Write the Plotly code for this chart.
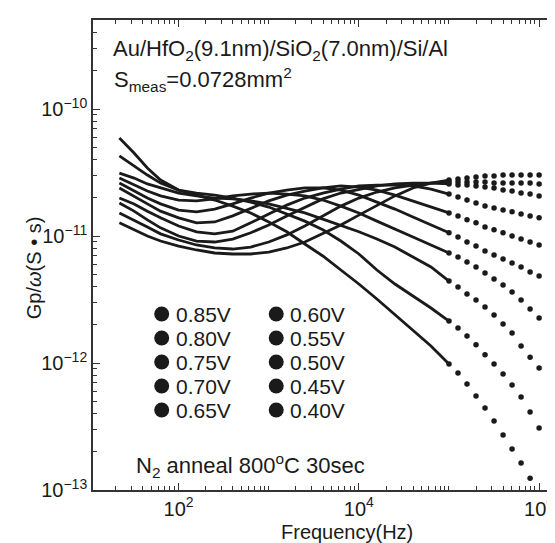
import plotly.graph_objects as go

# Frequency points (Hz)
freq = [22, 32, 45, 63, 100, 158, 251, 398, 631, 1000, 1585, 2512, 3981, 6310,
        10000, 15850, 25120, 39810, 63100, 100000, 125900, 158500, 199500,
        251200, 316200, 398100, 501200, 631000, 794300, 1000000]

# Gp/omega values in units of 1e-12 S*s
v040 = [59.1, 45.0, 34.3, 27.6, 23.0, 21.0, 19.2, 17.2, 15.2, 12.9, 10.8, 8.65, 6.96, 5.40,
        4.19, 3.19, 2.39, 1.82, 1.36, 0.982, 0.834, 0.683, 0.550, 0.442, 0.349, 0.271,
        0.210, 0.163, 0.124, 0.0947]
v045 = [42.7, 35.6, 30.2, 26.1, 23.0, 21.8, 21.0, 19.9, 18.5, 16.9, 14.9, 13.1, 11.2, 9.13,
        7.22, 5.40, 4.19, 3.37, 2.71, 2.14, 1.89, 1.63, 1.39, 1.16, 0.982, 0.819, 0.671,
        0.540, 0.411, 0.308]
v050 = [31.3, 28.6, 25.7, 23.9, 21.8, 20.7, 19.9, 19.6, 18.9, 17.9, 16.6, 15.2, 13.6, 12.2,
        10.8, 9.47, 8.19, 6.83, 5.70, 4.42, 3.97, 3.49, 3.13, 2.76, 2.39, 2.03, 1.72, 1.36,
        1.11, 0.913]
v055 = [28.6, 25.2, 22.6, 20.7, 19.2, 18.9, 19.6, 20.7, 21.4, 21.8, 21.4, 20.7, 19.2, 17.2,
        15.2, 13.1, 11.4, 9.82, 8.50, 7.35, 6.83, 6.24, 5.70, 5.11, 4.58, 4.11, 3.62, 3.13,
        2.66, 2.26]
v060 = [26.1, 22.6, 19.9, 17.9, 16.0, 15.5, 16.3, 17.9, 19.9, 21.8, 23.0, 23.9, 23.9, 23.0,
        21.0, 18.5, 16.3, 14.1, 12.2, 10.6, 9.82, 8.97, 8.34, 7.62, 7.09, 6.59, 6.13, 5.70,
        5.21, 4.84]
v065 = [23.9, 20.7, 17.9, 15.7, 13.9, 12.7, 12.9, 14.4, 16.6, 18.9, 21.0, 22.6, 23.9, 24.8,
        24.3, 23.0, 21.0, 18.9, 16.9, 15.2, 14.4, 13.4, 12.7, 11.8, 11.2, 10.6, 10.0, 9.47,
        8.97, 8.50]
v070 = [19.9, 17.9, 15.7, 13.9, 12.0, 10.8, 10.4, 10.9, 12.7, 14.9, 17.5, 19.9, 21.8, 23.4,
        24.8, 25.2, 25.2, 24.8, 23.4, 21.4, 20.3, 19.2, 18.2, 17.2, 16.6, 16.0, 15.5, 14.9,
        14.4, 13.9]
v075 = [18.2, 15.7, 13.4, 11.6, 10.0, 9.13, 8.97, 9.47, 10.6, 12.2, 14.4, 16.9, 19.6, 21.8,
        23.4, 24.8, 25.7, 26.1, 26.1, 25.7, 25.2, 25.2, 24.8, 24.3, 23.9, 23.0, 22.6, 21.8,
        21.4, 20.7]
v080 = [15.2, 13.4, 11.8, 10.4, 9.30, 8.50, 8.05, 7.90, 8.19, 8.97, 10.2, 12.0, 14.4, 17.2,
        19.9, 22.2, 23.9, 25.2, 26.1, 26.6, 26.6, 26.6, 26.6, 26.6, 26.1, 26.1, 26.1, 26.1,
        26.1, 25.7]
v085 = [12.7, 11.2, 10.0, 9.13, 8.34, 7.76, 7.35, 7.22, 7.22, 7.48, 8.05, 8.97, 10.4, 12.2,
        14.6, 17.5, 20.7, 23.9, 26.1, 27.6, 28.1, 28.6, 29.2, 29.7, 29.7, 30.2, 30.2, 30.2,
        30.2, 30.2]

labels = ["0.85V", "0.80V", "0.75V", "0.70V", "0.65V",
          "0.60V", "0.55V", "0.50V", "0.45V", "0.40V"]
series = [v085, v080, v075, v070, v065, v060, v055, v050, v045, v040]

y_ticks = [1e-13, 1e-12, 1e-11, 1e-10]
y_ticktext = ["10<sup>\u221213</sup>", "10<sup>\u221212</sup>", "10<sup>\u221211</sup>", "10<sup>\u221210</sup>"]
x_ticks = [1e2, 1e4, 1e6]
x_ticktext = ["10<sup>2</sup>", "10<sup>4</sup>", "10<sup>6</sup>"]

FONT = "Arial, Liberation Sans, Helvetica, sans-serif"
INK = "#1a1a1a"

W, H = 555, 543
L, R, T, B = 85, 0, 12, 61
PW, PH = W - L - R, H - T - B


def px(xp):
    return (xp - L) / PW


def py(yp):
    return (H - B - yp) / PH


fig = go.Figure()
split = 100000  # sweep becomes sparse above this frequency
for lab, vals in zip(labels, series):
    yv = [v * 1e-12 for v in vals]
    lo = [(f, y) for f, y in zip(freq, yv) if f <= split]
    hi = [(f, y) for f, y in zip(freq, yv) if f >= split]
    fig.add_trace(go.Scatter(
        x=[p[0] for p in lo], y=[p[1] for p in lo], mode="lines",
        line=dict(color=INK, width=2.8), showlegend=False, hoverinfo="skip"))
    fig.add_trace(go.Scatter(
        x=[p[0] for p in hi], y=[p[1] for p in hi], mode="markers",
        marker=dict(color=INK, size=5.5), name=lab, showlegend=False))

minor_vals = [m * 10 ** k for k in range(1, 7) for m in range(1, 10) if m * 10 ** k <= 1.7e6]
minor_y = [m * 10.0 ** k for k in range(-13, -9) for m in range(1, 10)]

fig.update_layout(
    width=W, height=H,
    margin=dict(l=L, r=R, t=T, b=B),
    paper_bgcolor="white", plot_bgcolor="white",
    font=dict(family=FONT, color=INK, size=20),
    showlegend=False,
    xaxis=dict(type="log", range=[1.0497, 6.243], showgrid=False, zeroline=False,
               showline=True, linecolor="#333", linewidth=1.6, mirror="allticks",
               ticks="inside", ticklen=7, tickcolor="#333",
               tickvals=x_ticks, ticktext=x_ticktext,
               tickfont=dict(size=20, family=FONT, color=INK),
               minor=dict(tickvals=minor_vals, ticks="inside", ticklen=4, tickcolor="#333")),
    yaxis=dict(type="log", range=[-13, -9.299], showgrid=False, zeroline=False,
               showline=True, linecolor="#333", linewidth=1.6, mirror="allticks",
               ticks="inside", ticklen=7, tickcolor="#333",
               tickvals=y_ticks, ticktext=y_ticktext,
               tickfont=dict(size=20, family=FONT, color=INK),
               minor=dict(tickvals=minor_y, ticks="inside", ticklen=4, tickcolor="#333")),
)

# axis titles
fig.add_annotation(xref="paper", yref="paper", x=px(340), y=py(524), xanchor="center",
                   yanchor="middle", text="Frequency(Hz)", showarrow=False,
                   font=dict(size=20, family=FONT, color=INK))
fig.add_annotation(xref="paper", yref="paper", x=px(26), y=py(260), xanchor="center",
                   yanchor="middle", text="Gp/<i>\u03c9</i>(S \u2022 s)", textangle=-90,
                   showarrow=False, font=dict(size=20, family=FONT, color=INK))

# in-plot labels
fig.add_annotation(xref="paper", yref="paper", x=px(103), y=py(42), xanchor="left", yanchor="middle",
                   text="Au/HfO<sub>2</sub>(9.1nm)/SiO<sub>2</sub>(7.0nm)/Si/Al",
                   showarrow=False, font=dict(size=22, family=FONT, color=INK))
fig.add_annotation(xref="paper", yref="paper", x=px(104), y=py(72), xanchor="left", yanchor="middle",
                   text="S<sub>meas</sub>=0.0728mm<sup>2</sup>",
                   showarrow=False, font=dict(size=22, family=FONT, color=INK))
fig.add_annotation(xref="paper", yref="paper", x=px(126), y=py(457), xanchor="left", yanchor="middle",
                   text="N<sub>2</sub> anneal 800<sup>o</sup>C 30sec",
                   showarrow=False, font=dict(size=22, family=FONT, color=INK))

# two-column key
row_y = [306, 330, 354, 378, 402]
col_dot = [154, 269]
for i, lab in enumerate(labels):
    c, r = divmod(i, 5)
    cx, cy = col_dot[c], row_y[r]
    fig.add_shape(type="circle", xref="paper", yref="paper",
                  xsizemode="pixel", ysizemode="pixel",
                  xanchor=px(cx), yanchor=py(cy), x0=-7.5, x1=7.5, y0=-7.5, y1=7.5,
                  fillcolor=INK, line=dict(color=INK, width=0))
    fig.add_annotation(xref="paper", yref="paper", x=px(cx + 12), y=py(cy), xanchor="left",
                       yanchor="middle", text=lab, showarrow=False,
                       font=dict(size=21, family=FONT, color=INK))

fig.write_html("out.html")
